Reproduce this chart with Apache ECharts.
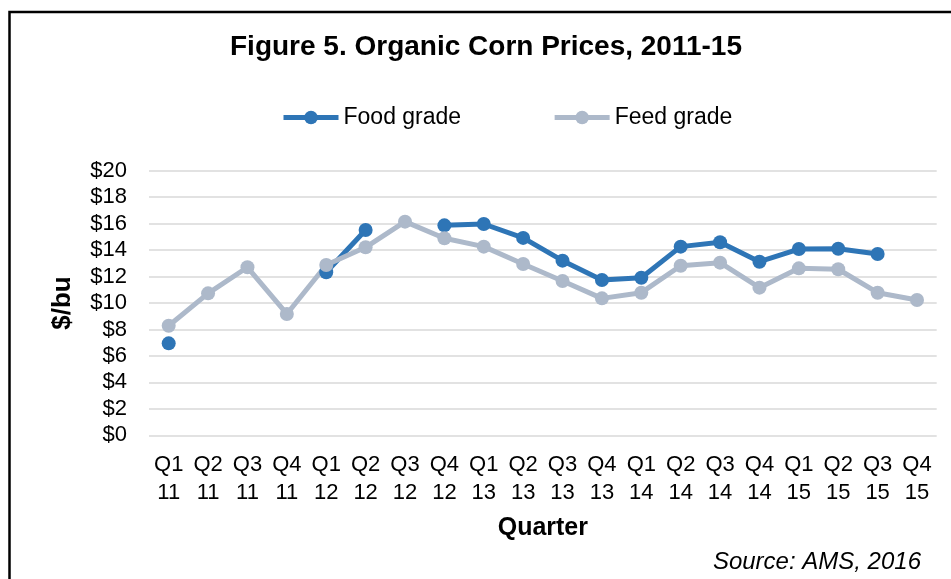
<!DOCTYPE html>
<html>
<head>
<meta charset="utf-8">
<script src="https://cdn.jsdelivr.net/npm/echarts@6/dist/echarts.min.js"></script>
<style>
html,body{margin:0;padding:0;background:#fff;}
#chart{width:951px;height:579px;}
</style>
</head>
<body>
<div id="chart"></div>
<script>
const quarters = ['Q1','Q2','Q3','Q4','Q1','Q2','Q3','Q4','Q1','Q2','Q3','Q4','Q1','Q2','Q3','Q4','Q1','Q2','Q3','Q4'];
const years    = ['11','11','11','11','12','12','12','12','13','13','13','13','14','14','14','14','15','15','15','15'];
const foodGrade = [6.95, null, null, null, 12.32, 15.52, null, 15.87, 15.97, 14.92, 13.2, 11.74, 11.91, 14.26, 14.59, 13.12, 14.08, 14.10, 13.70, null];
const feedGrade = [8.28, 10.73, 12.70, 9.17, 12.87, 14.21, 16.15, 14.89, 14.26, 12.95, 11.66, 10.35, 10.78, 12.82, 13.05, 11.16, 12.62, 12.55, 10.78, 10.23];
const yTicks = [0, 2, 4, 6, 8, 10, 12, 14, 16, 18, 20];

const categories = quarters.map((q, i) => q + '\n' + years[i]);
const FONT = '"Liberation Sans", Arial, sans-serif';

const chart = echarts.init(document.getElementById('chart'), null, {renderer: 'canvas'});
chart.setOption({
  animation: false,
  backgroundColor: '#ffffff',
  textStyle: {fontFamily: FONT, color: '#000'},
  graphic: [
    {type: 'rect', shape: {x: 9.5, y: 12, width: 1200, height: 1200},
     style: {fill: 'none', stroke: '#000', lineWidth: 2.5}, silent: true},
    {type: 'text', x: 486, y: 47,
     style: {text: 'Figure 5. Organic Corn Prices, 2011-15', font: 'bold 28px ' + FONT,
             fill: '#000', textAlign: 'center', textVerticalAlign: 'middle'}},
    {type: 'text', x: 921, y: 562,
     style: {text: 'Source: AMS, 2016', font: 'italic 24px ' + FONT,
             fill: '#000', textAlign: 'right', textVerticalAlign: 'middle'}}
  ],
  legend: {
    left: 281, top: 106, padding: 0,
    itemWidth: 55, itemHeight: 17, itemGap: 91,
    lineStyle: {width: 5},
    textStyle: {fontSize: 23, fontFamily: FONT, color: '#000'},
    data: ['Food grade', 'Feed grade']
  },
  grid: {left: 149, right: 14.3, top: 170.7, bottom: 143.7, containLabel: false},
  xAxis: {
    type: 'category',
    data: categories,
    boundaryGap: true,
    axisTick: {show: false},
    axisLine: {show: false},
    axisLabel: {fontSize: 22, color: '#000', fontFamily: FONT, margin: 16, lineHeight: 27.5, interval: 0},
    name: 'Quarter', nameLocation: 'middle', nameGap: 80,
    nameTextStyle: {fontSize: 25, fontWeight: 'bold', color: '#000', fontFamily: FONT}
  },
  yAxis: {
    type: 'value',
    min: yTicks[0], max: yTicks[yTicks.length - 1], interval: 2,
    axisLine: {show: false}, axisTick: {show: false},
    axisLabel: {fontSize: 22, color: '#000', fontFamily: FONT, margin: 22, formatter: v => '$' + v},
    splitLine: {lineStyle: {color: '#d9d9d9', width: 1.5}},
    name: '$/bu', nameLocation: 'middle', nameGap: 73, nameRotate: 90,
    nameTextStyle: {fontSize: 26, fontWeight: 'bold', color: '#000', fontFamily: FONT}
  },
  series: [
    {name: 'Food grade', type: 'line', data: foodGrade, connectNulls: false,
     symbol: 'circle', symbolSize: 14, showAllSymbol: true,
     lineStyle: {color: '#2E75B6', width: 5}, itemStyle: {color: '#2E75B6'}},
    {name: 'Feed grade', type: 'line', data: feedGrade, connectNulls: false,
     symbol: 'circle', symbolSize: 14, showAllSymbol: true,
     lineStyle: {color: '#ADB9CA', width: 5}, itemStyle: {color: '#ADB9CA'}}
  ]
});
</script>
</body>
</html>
